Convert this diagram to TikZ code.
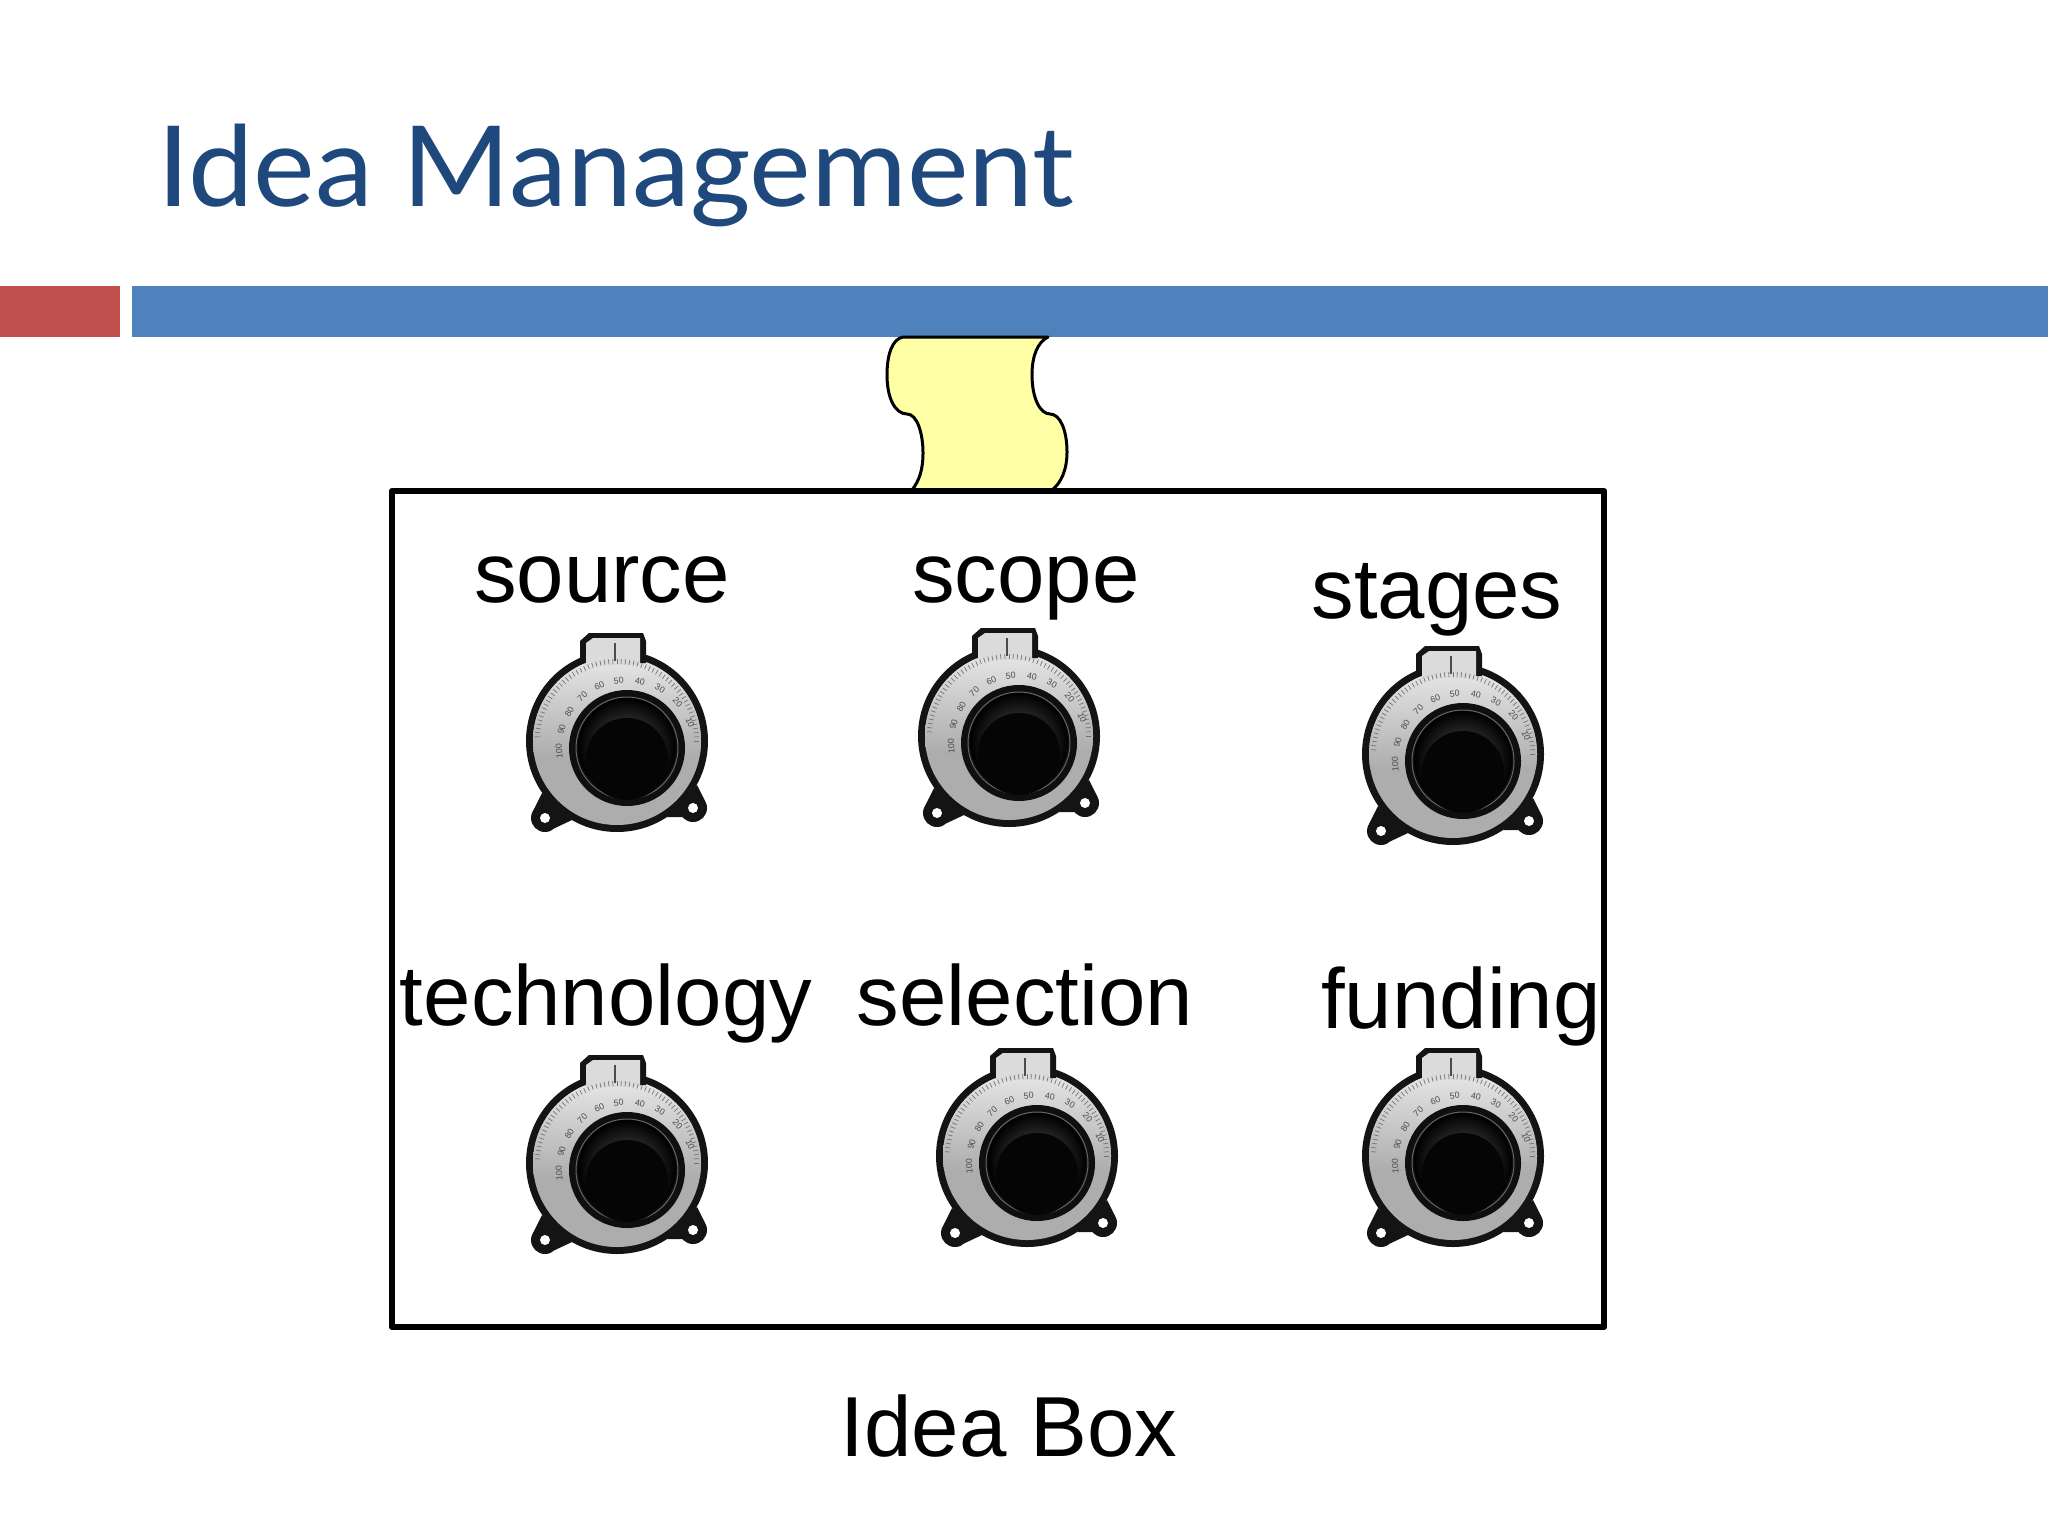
\documentclass[tikz,border=0pt]{standalone}
\usepackage{fontspec}
\setmainfont{Liberation Sans}
\newfontfamily\titlefont{Lato}
\usetikzlibrary{calc}
\definecolor{titleblue}{HTML}{1F497D}
\definecolor{barblue}{HTML}{4F81BD}
\definecolor{barred}{HTML}{C0504D}
\definecolor{scrollyellow}{HTML}{FFFFA6}
\tikzset{
  every picture/.style={line join=round},
  label text/.style={font=\fontsize{42.6}{48}\selectfont,anchor=base,inner sep=0pt,text=black},
  dial num/.style={font=\fontsize{4.4}{5}\selectfont,inner sep=0pt,text=black!70},
  pics/dialknob/.style={code={
    % mounting ears
    \fill[black!92] (-72,83) circle (14);
    \fill[black!92] (76,73) circle (14);
    \fill[black!92] (-84,76) -- (-75,58) -- (-45,85) -- (-62,93) -- cycle;
    \fill[black!92] (88,66) -- (80,50) -- (50,82) -- (65,82) -- cycle;
    % body
    \fill[black!92] (0,6) circle (91);
    \fill[black!32] (0,6) circle (84);
    \begin{scope}
      \clip (0,6) circle (84);
      \shade[top color=black!8,bottom color=black!32] (-90,-85) rectangle (90,20);
    \end{scope}
    % tab
    \fill[black!92] (-37,-72) -- (-37,-94) -- (-28,-102) -- (26,-102) -- (29,-94) -- (29,-72) -- cycle;
    \fill[black!14] (-31,-70) -- (-31,-92) -- (-24,-97) -- (23,-97) -- (23,-70) -- cycle;
    \fill[white] (-72,83) circle (5);
    \fill[white] (76,73) circle (5);
    % scale
    \foreach \a in {0,3,...,177} {
      \draw[black!55,line width=.35pt] ($(0,6)+({\a}:77 and -77)$) -- ($(0,6)+({\a}:82 and -82)$);
    }
    \draw[black!70,line width=.7pt] (-2,-92) -- (-2,-74);
    % numbers
    \foreach \v/\b in {10/22,20/42,30/61,40/79,50/97,60/114,70/131,80/148,90/164,100/183} {
      \node[dial num,rotate={\b-90}] at ($(10,13)+(\b:68 and -68)$) {\v};
    }
    % knob
    \fill[black!94] (10,13) circle (58);
    \draw[black!60,line width=.5pt] (10,13) circle (51);
    \shade[inner color=black!65,outer color=black,shading=radial] (10,12) circle (49);
    \fill[black!98] (10,24) circle (41);
  }}
}
\begin{document}
\begin{tikzpicture}[x=0.5pt,y=-0.5pt]
\useasboundingbox (0,0) rectangle (2048,1536);
\fill[white] (0,0) rectangle (2048,1536);
\fill[barred] (0,286) rectangle (120,337);
\fill[barblue] (132,286) rectangle (2048,337);
\node[font=\titlefont\fontsize{56}{60}\selectfont,text=titleblue,anchor=base west,inner sep=0pt,xscale=1.04] (title) at (157,206) {Idea Management};
% scroll
\draw[fill=scrollyellow,draw=black,line width=1.5pt] (903,337)
  .. controls (892,339) and (887,355) .. (887,375)
  .. controls (887,398) and (895,414) .. (907,414)
  .. controls (917,414) and (923,433) .. (923,453)
  .. controls (923,470) and (919,481) .. (912,490)
  -- (1052,490)
  .. controls (1061,483) and (1067,470) .. (1067,452)
  .. controls (1067,430) and (1060,414) .. (1050,414)
  .. controls (1040,414) and (1032,398) .. (1032,375)
  .. controls (1032,355) and (1038,342) .. (1048,337) -- cycle;
\draw[black,line width=3.2pt] (392,491) rectangle (1604,1327);
\pic at (617,735) {dialknob};
\pic at (1009,730) {dialknob};
\pic at (1453,748) {dialknob};
\pic at (617,1157) {dialknob};
\pic at (1027,1150) {dialknob};
\pic at (1453,1150) {dialknob};
\node[label text] (source) at (602,602) {source};
\node[label text] (scope) at (1026,602) {scope};
\node[label text] (stages) at (1437,618) {stages};
\node[label text] (technology) at (606,1025) {technology};
\node[label text] (selection) at (1025,1025) {selection};
\node[label text] (funding) at (1461,1028) {funding};
\node[label text] (ideabox) at (1009,1456) {Idea Box};
\end{tikzpicture}
\end{document}
